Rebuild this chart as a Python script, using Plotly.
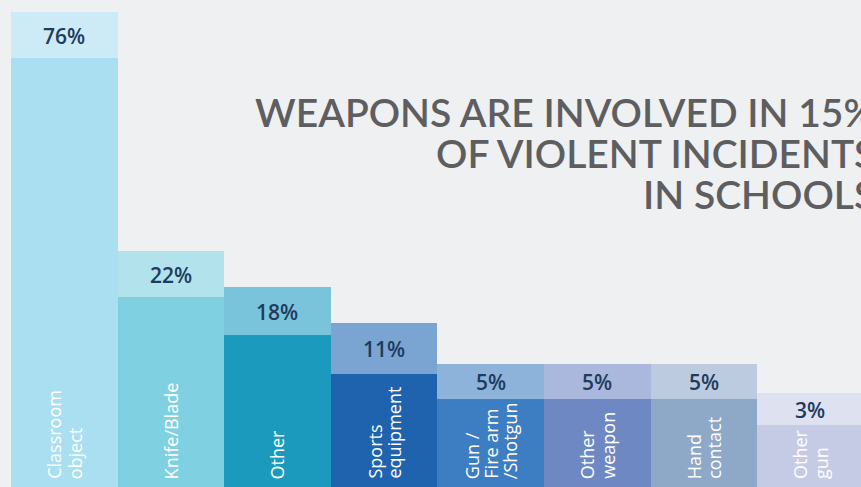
import plotly.graph_objects as go

# ---- data ----
categories = ["Classroom<br>object", "Knife/Blade", "Other", "Sports<br>equipment",
              "Gun /<br>Fire arm<br>/Shotgun", "Other<br>weapon", "Hand<br>contact", "Other<br>gun"]
percent = [76, 22, 18, 11, 5, 5, 5, 3]
# drawn heights of the bar bodies and of the label caps (infographic, not to scale)
bar_height = [88.1, 39.0, 31.2, 23.2, 18.1, 18.1, 18.1, 12.7]
cap_height = [9.45, 9.45, 9.85, 10.5, 7.2, 7.2, 7.2, 6.6]
title_lines = ["WEAPONS ARE INVOLVED IN 15%", "OF VIOLENT INCIDENTS", "IN SCHOOLS"]

# ---- styles ----
body_colors = ["#a9dff0", "#7fd1e2", "#1b9abd", "#1f63ae", "#3d7dc1", "#6e88c3", "#8ea8c8", "#c5cbe5"]
cap_colors = ["#cdebf6", "#b2e3ed", "#79c4da", "#7aa5d2", "#8db3da", "#a9b8dc", "#bccbdf", "#dde1f0"]
line_gap = [22, 20, 20, 19, 19, 20, 20, 21]
BG = "#eff0f2"
LABEL_FONT = "Open Sans"
TITLE_FONT = "Lato"

x = list(range(len(categories)))

fig = go.Figure()
fig.add_trace(go.Bar(x=x, y=bar_height, marker=dict(color=body_colors, line=dict(width=0)),
                     hoverinfo="skip", showlegend=False))
fig.add_trace(go.Bar(x=x, y=cap_height, marker=dict(color=cap_colors, line=dict(width=0)),
                     hoverinfo="skip", showlegend=False))

ann = []
for i in x:
    ann.append(dict(x=i, y=bar_height[i] + cap_height[i] / 2, xref="x", yref="y",
                    text=f"{percent[i]}%", showarrow=False, xanchor="center", yanchor="middle",
                    yshift=-1,
                    font=dict(family=LABEL_FONT, size=21, color="#1f3b5e", weight=600)))
    lines = categories[i].split("<br>")
    n = len(lines)
    for j, ln in enumerate(lines):
        ann.append(dict(x=i, y=0, xref="x", yref="y", text=ln, showarrow=False,
                        textangle=-90, xanchor="center", yanchor="bottom",
                        xshift=(j - (n - 1) / 2) * line_gap[i], yshift=6,
                        font=dict(family=LABEL_FONT, size=18, color="white")))

title_y = [112, 153, 194]
for line, py in zip(title_lines, title_y):
    ann.append(dict(x=877 / 861, y=1 - py / 487, xref="paper", yref="paper", text=line,
                    showarrow=False, xanchor="right", yanchor="middle",
                    font=dict(family=TITLE_FONT, size=39, color="#5e5e60", weight=600)))

fig.update_layout(
    width=861, height=487,
    margin=dict(l=0, r=0, t=0, b=0),
    paper_bgcolor=BG, plot_bgcolor=BG,
    barmode="stack", bargap=0,
    xaxis=dict(range=[-0.603, 7.474], visible=False, fixedrange=True),
    yaxis=dict(range=[0, 100], visible=False, fixedrange=True),
    annotations=ann,
)

fig.write_html("out.html", config={"displayModeBar": False},
               post_script="document.body.style.margin='0';document.body.style.overflow='hidden';")
